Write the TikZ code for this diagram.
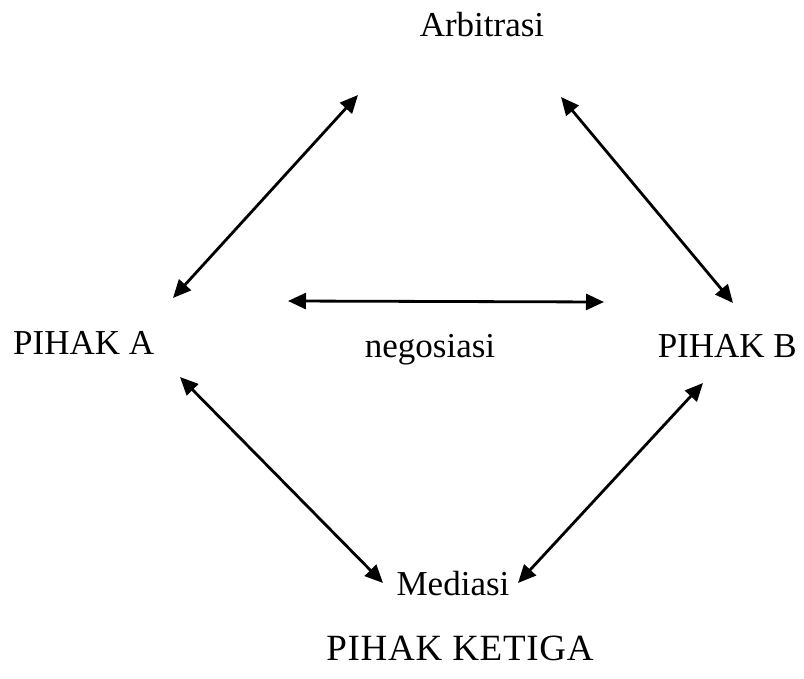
\documentclass[tikz,border=0pt]{standalone}
\usepackage{fontspec}
\setmainfont{Liberation Serif}
\usetikzlibrary{arrows.meta}
\begin{document}
\begin{tikzpicture}[x=1pt,y=-1pt,
  lbl/.style={font=\fontsize{35}{40}\selectfont, inner sep=0pt},
  link/.style={line width=2.8pt, {Triangle[length=18pt,width=16pt]}-{Triangle[length=18pt,width=16pt]}}]
\useasboundingbox (0,0) rectangle (804,679);
\fill[white] (0,0) rectangle (804,679);
\node[lbl, anchor=base] (arb) at (482,37) {Arbitrasi};
\node[lbl, anchor=base west] (pa) at (13,355) {PIHAK A};
\node[lbl, anchor=base east] (pb) at (797,358) {PIHAK B};
\node[lbl, anchor=base] (neg) at (430,357) {negosiasi};
\node[lbl, anchor=base] (med) at (453,595) {Mediasi};
\node[lbl, anchor=base, font=\fontsize{37}{42}\selectfont] (ketiga) at (460,660) {\addfontfeature{LetterSpace=2}PIHAK KETIGA};
% connector ends
\coordinate (aA) at (173,298);
\coordinate (aArb) at (358,95);
\coordinate (bArb) at (561,97);
\coordinate (bB) at (733,303);
\coordinate (nL) at (288,301);
\coordinate (nR) at (604,302);
\coordinate (mA) at (180,377);
\coordinate (mL) at (383,583);
\coordinate (mR) at (518,583);
\coordinate (mB) at (703,383);
\draw[link] (aA) -- (aArb);
\draw[link] (bArb) -- (bB);
\draw[link] (nL) -- (nR);
\draw[link] (mA) -- (mL);
\draw[link] (mR) -- (mB);
\end{tikzpicture}
\end{document}
